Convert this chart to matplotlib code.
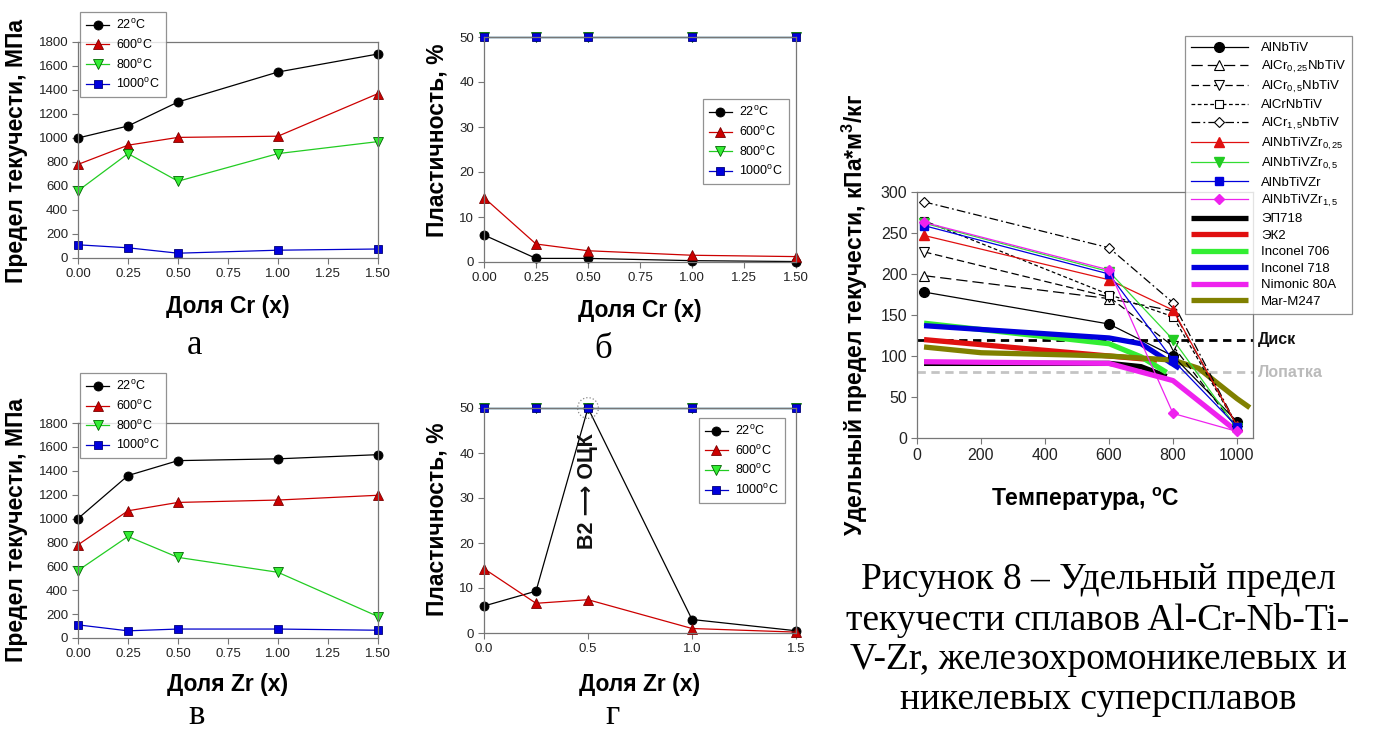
import numpy as np
import matplotlib
matplotlib.use('Agg')
import matplotlib.pyplot as plt
from matplotlib.patches import Ellipse

plt.rcParams['font.family'] = ['Liberation Sans', 'DejaVu Sans']
plt.rcParams['mathtext.fontset'] = 'custom'
plt.rcParams['mathtext.rm'] = 'Liberation Sans'
plt.rcParams['mathtext.bf'] = 'Liberation Sans:bold'

W, H = 1374, 735

# --- data: доля Cr / Zr
dolya = [0.0, 0.25, 0.5, 1.0, 1.5]
temp_labels = [r'22$^\mathregular{o}$C', r'600$^\mathregular{o}$C',
               r'800$^\mathregular{o}$C', r'1000$^\mathregular{o}$C']

cr_sig_22 = [1000, 1100, 1300, 1550, 1700]
cr_sig_600 = [780, 940, 1005, 1015, 1370]
cr_sig_800 = [560, 870, 640, 870, 970]
cr_sig_1000 = [110, 85, 40, 65, 75]

cr_pl_22 = [6.0, 0.8, 0.8, 0.3, 0.1]
cr_pl_600 = [14.3, 4.0, 2.5, 1.5, 1.2]
cr_pl_800 = [50, 50, 50, 50, 50]
cr_pl_1000 = [50, 50, 50, 50, 50]

zr_sig_22 = [1000, 1360, 1485, 1500, 1535]
zr_sig_600 = [780, 1065, 1135, 1155, 1195]
zr_sig_800 = [565, 850, 675, 550, 180]
zr_sig_1000 = [110, 60, 75, 75, 65]

zr_pl_22 = [6.0, 9.3, 50, 3.0, 0.5]
zr_pl_600 = [14.3, 6.6, 7.4, 1.0, 0.2]
zr_pl_800 = [50, 50, 50, 50, 50]
zr_pl_1000 = [50, 50, 50, 50, 50]

# --- data: удельный предел текучести
t_alloy = [22, 600, 800, 1000]
alnbtiv = [178, 139, 100, 20]
alcr025 = [198, 170, 155, 15]
alcr05 = [227, 172, 112, 12]
alcr1 = [265, 175, 148, 15]
alcr15 = [288, 232, 165, 15]
zr025 = [247, 193, 156, 15]
zr05 = [262, 203, 120, 12]
zr1 = [259, 200, 95, 14]
zr15 = [263, 205, 30, 8]

t_ep718 = [22, 600, 700, 780]
ep718 = [91, 91, 87, 75]
t_ek2 = [22, 600, 750]
ek2 = [120, 100, 95]
t_in706 = [22, 600, 700, 780]
in706 = [140, 115, 99, 80]
t_in718 = [22, 600, 700, 820]
in718 = [137, 122, 115, 85]
t_nim = [22, 600, 800, 1000]
nim80a = [93, 91, 70, 8]
t_mar = [22, 200, 600, 800, 880, 1000, 1040]
mar247 = [111, 104, 100, 95, 85, 48, 37]

disk_level = 120
blade_level = 80

fig = plt.figure(figsize=(W / 100, H / 100), dpi=100)

LBL = 16.5  # bold axis labels


def axes_px(l, t, r, b):
    return fig.add_axes([l / W, 1 - b / H, (r - l) / W, (b - t) / H])


def style(ax, fs=9.5):
    for s in ax.spines.values():
        s.set_color('#777777')
        s.set_linewidth(0.9)
    ax.tick_params(direction='out', length=4, width=0.8, color='#777777',
                   labelsize=fs, labelcolor='#222222', pad=3)


t_styles = [dict(color='k', marker='o', mfc='k', mec='k', ms=6.5),
            dict(color='#cc0000', marker='^', mfc='#cc0000', mec='#7a0000', ms=6.5),
            dict(color='#22cc22', marker='v', mfc='#33ee33', mec='#006600', ms=6.5),
            dict(color='#0000cc', marker='s', mfc='#0000dd', mec='#000077', ms=5.5)]


def temp_panel(ax, series, ymax, ystep):
    for vals, st, lab in zip(series, t_styles, temp_labels):
        ax.plot(dolya, vals, lw=0.9, label=lab, clip_on=False, mew=0.6, **st)
    ax.set_xlim(0, 1.5)
    ax.set_ylim(0, ymax)
    ax.set_yticks(np.arange(0, ymax + 1, ystep))
    style(ax)


leg_kw = dict(fontsize=9, frameon=True, fancybox=False, edgecolor='#777777',
              handlelength=1.8, handletextpad=0.6, labelspacing=0.45,
              borderpad=0.5, borderaxespad=0)

# а
ax1 = axes_px(78, 42, 378, 258)
temp_panel(ax1, [cr_sig_22, cr_sig_600, cr_sig_800, cr_sig_1000], 1800, 200)
ax1.set_xticks([0, 0.25, 0.5, 0.75, 1.0, 1.25, 1.5])
ax1.set_xticklabels(['0.00', '0.25', '0.50', '0.75', '1.00', '1.25', '1.50'])
ax1.set_ylabel('Предел текучести, МПа', fontsize=LBL, fontweight='bold')
ax1.yaxis.set_label_coords(-0.165, 0.495)
ax1.set_xlabel('Доля Cr (x)', fontsize=LBL, fontweight='bold')
ax1.xaxis.set_label_coords(0.5, -0.17)
l = ax1.legend(loc='upper left', bbox_to_anchor=(0.007, 1.139), **leg_kw)
l.get_frame().set_linewidth(0.9)

# б
ax2 = axes_px(484, 37, 796, 262)
temp_panel(ax2, [cr_pl_22, cr_pl_600, cr_pl_800, cr_pl_1000], 50, 10)
ax2.set_xticks([0, 0.25, 0.5, 0.75, 1.0, 1.25, 1.5])
ax2.set_xticklabels(['0.00', '0.25', '0.50', '0.75', '1.00', '1.25', '1.50'])
ax2.set_ylabel('Пластичность, %', fontsize=LBL, fontweight='bold')
ax2.yaxis.set_label_coords(-0.115, 0.54)
ax2.set_xlabel('Доля Cr (x)', fontsize=LBL, fontweight='bold')
ax2.xaxis.set_label_coords(0.5, -0.165)
l = ax2.legend(loc='upper right', bbox_to_anchor=(0.978, 0.724), **leg_kw)
l.get_frame().set_linewidth(0.9)

# в
ax3 = axes_px(78, 423, 378, 638)
temp_panel(ax3, [zr_sig_22, zr_sig_600, zr_sig_800, zr_sig_1000], 1800, 200)
ax3.set_xticks([0, 0.25, 0.5, 0.75, 1.0, 1.25, 1.5])
ax3.set_xticklabels(['0.00', '0.25', '0.50', '0.75', '1.00', '1.25', '1.50'])
ax3.set_ylabel('Предел текучести, МПа', fontsize=LBL, fontweight='bold')
ax3.yaxis.set_label_coords(-0.165, 0.5)
ax3.set_xlabel('Доля Zr (x)', fontsize=LBL, fontweight='bold')
ax3.xaxis.set_label_coords(0.5, -0.165)
l = ax3.legend(loc='upper left', bbox_to_anchor=(0.007, 1.232), **leg_kw)
l.get_frame().set_linewidth(0.9)

# г
ax4 = axes_px(484, 408, 796, 633)
temp_panel(ax4, [zr_pl_22, zr_pl_600, zr_pl_800, zr_pl_1000], 50, 10)
ax4.set_xticks([0, 0.5, 1.0, 1.5])
ax4.set_xticklabels(['0.0', '0.5', '1.0', '1.5'])
ax4.set_ylabel('Пластичность, %', fontsize=LBL, fontweight='bold')
ax4.yaxis.set_label_coords(-0.115, 0.507)
ax4.set_xlabel('Доля Zr (x)', fontsize=LBL, fontweight='bold')
ax4.xaxis.set_label_coords(0.5, -0.18)
l = ax4.legend(loc='upper right', bbox_to_anchor=(0.965, 0.956), **leg_kw)
l.get_frame().set_linewidth(0.9)
ax4.add_patch(Ellipse((0.5, 50), 0.1, 4.6, fill=False, ec='#888888', ls=':',
                      lw=0.9, clip_on=False, zorder=5))
ax4.text(0.5, 31.5, 'B2 \u27f6 ОЦК', rotation=90, ha='center', va='center',
         fontsize=15.5, fontweight='bold', color='#111111')

# подписи
serif = ['Liberation Serif', 'DejaVu Serif']
fig.text(195 / W, 1 - 345 / H, 'а', family=serif, fontsize=25, ha='center', va='center')
fig.text(603 / W, 1 - 350 / H, 'б', family=serif, fontsize=25, ha='center', va='center')
fig.text(197 / W, 1 - 716 / H, 'в', family=serif, fontsize=25, ha='center', va='center')
fig.text(612 / W, 1 - 715 / H, 'г', family=serif, fontsize=25, ha='center', va='center')

# удельный предел текучести
ax5 = axes_px(917, 192, 1253, 438)
thin_kw = dict(lw=0.9, clip_on=False, zorder=4)
ax5.plot(t_alloy, alnbtiv, color='k', marker='o', ms=7, mfc='k', mec='k',
         label='AlNbTiV', **thin_kw)
ax5.plot(t_alloy, alcr025, color='k', ls=(0, (9, 4)), marker='^', ms=6.5, mfc='white',
         mec='k', mew=0.8, label=r'AlCr$_\mathregular{0,25}$NbTiV', **thin_kw)
ax5.plot(t_alloy, alcr05, color='k', ls=(0, (6, 3)), marker='v', ms=6.5, mfc='white',
         mec='k', mew=0.8, label=r'AlCr$_\mathregular{0,5}$NbTiV', **thin_kw)
ax5.plot(t_alloy, alcr1, color='k', ls=(0, (3, 2)), marker='s', ms=6, mfc='white',
         mec='k', mew=0.8, label='AlCrNbTiV', **thin_kw)
ax5.plot(t_alloy, alcr15, color='k', ls=(0, (7, 2.5, 1.5, 2.5)), marker='D', ms=5.5,
         mfc='white', mec='k', mew=0.8, label=r'AlCr$_\mathregular{1,5}$NbTiV', **thin_kw)
ax5.plot(t_alloy, zr025, color='#e01010', marker='^', ms=6.5, mfc='#e01010', mec='#e01010',
         label=r'AlNbTiVZr$_\mathregular{0,25}$', **thin_kw)
ax5.plot(t_alloy, zr05, color='#33dd33', marker='v', ms=6.5, mfc='#22cc22', mec='#22cc22',
         label=r'AlNbTiVZr$_\mathregular{0,5}$', **thin_kw)
ax5.plot(t_alloy, zr1, color='#0000dd', marker='s', ms=5.5, mfc='#0000dd', mec='#0000dd',
         label='AlNbTiVZr', **thin_kw)
ax5.plot(t_alloy, zr15, color='#ee22ee', marker='D', ms=5.5, mfc='#ee22ee', mec='#ee22ee',
         label=r'AlNbTiVZr$_\mathregular{1,5}$', **thin_kw)

thick_kw = dict(lw=3.8, solid_capstyle='butt', clip_on=False, zorder=3)
ax5.plot(t_ep718, ep718, color='k', label='ЭП718', **thick_kw)
ax5.plot(t_ek2, ek2, color='#e01010', label='ЭК2', **thick_kw)
ax5.plot(t_in706, in706, color='#33ee33', label='Inconel 706', **thick_kw)
ax5.plot(t_in718, in718, color='#0000dd', label='Inconel 718', **thick_kw)
ax5.plot(t_nim, nim80a, color='#ee22ee', label='Nimonic 80A', **thick_kw)
ax5.plot(t_mar, mar247, color='#808000', label='Mar-M247', **thick_kw)

ax5.axhline(disk_level, color='k', ls=(0, (3, 2)), lw=2, zorder=2)
ax5.axhline(blade_level, color='#c4c4c4', ls=(0, (3, 2)), lw=2, zorder=2)
ax5.text(1.015, disk_level, 'Диск', transform=ax5.get_yaxis_transform(),
         fontsize=11.5, fontweight='bold', va='center', ha='left', color='#111111')
ax5.text(1.015, blade_level, 'Лопатка', transform=ax5.get_yaxis_transform(),
         fontsize=11.5, fontweight='bold', va='center', ha='left', color='#bbbbbb')

ax5.set_xlim(0, 1050)
ax5.set_ylim(0, 300)
ax5.set_xticks([0, 200, 400, 600, 800, 1000])
ax5.set_yticks([0, 50, 100, 150, 200, 250, 300])
style(ax5, fs=11.5)
ax5.set_ylabel(r'Удельный предел текучести, кПа*м$^\mathbf{3}$/кг',
               fontsize=LBL, fontweight='bold')
ax5.yaxis.set_label_coords(-0.14, 0.5)
ax5.set_xlabel(r'Температура, $^\mathbf{o}$C', fontsize=LBL, fontweight='bold')
ax5.xaxis.set_label_coords(0.5, -0.195)
l = ax5.legend(loc='upper left', bbox_to_anchor=(0.798, 1.634), fontsize=9.5,
               frameon=True, fancybox=False, edgecolor='#777777', handlelength=4.3,
               handletextpad=1.0, labelspacing=0.32, borderpad=0.45, borderaxespad=0)
l.get_frame().set_linewidth(0.9)
l.set_zorder(10)

fig.text(1098 / W, 1 - 640 / H,
         'Рисунок 8 – Удельный предел\nтекучести сплавов Al-Cr-Nb-Ti-\n'
         'V-Zr, железохромоникелевых и\nникелевых суперсплавов',
         family=serif, fontsize=27, ha='center', va='center', linespacing=1.2)

fig.savefig('out.png', dpi=100)
